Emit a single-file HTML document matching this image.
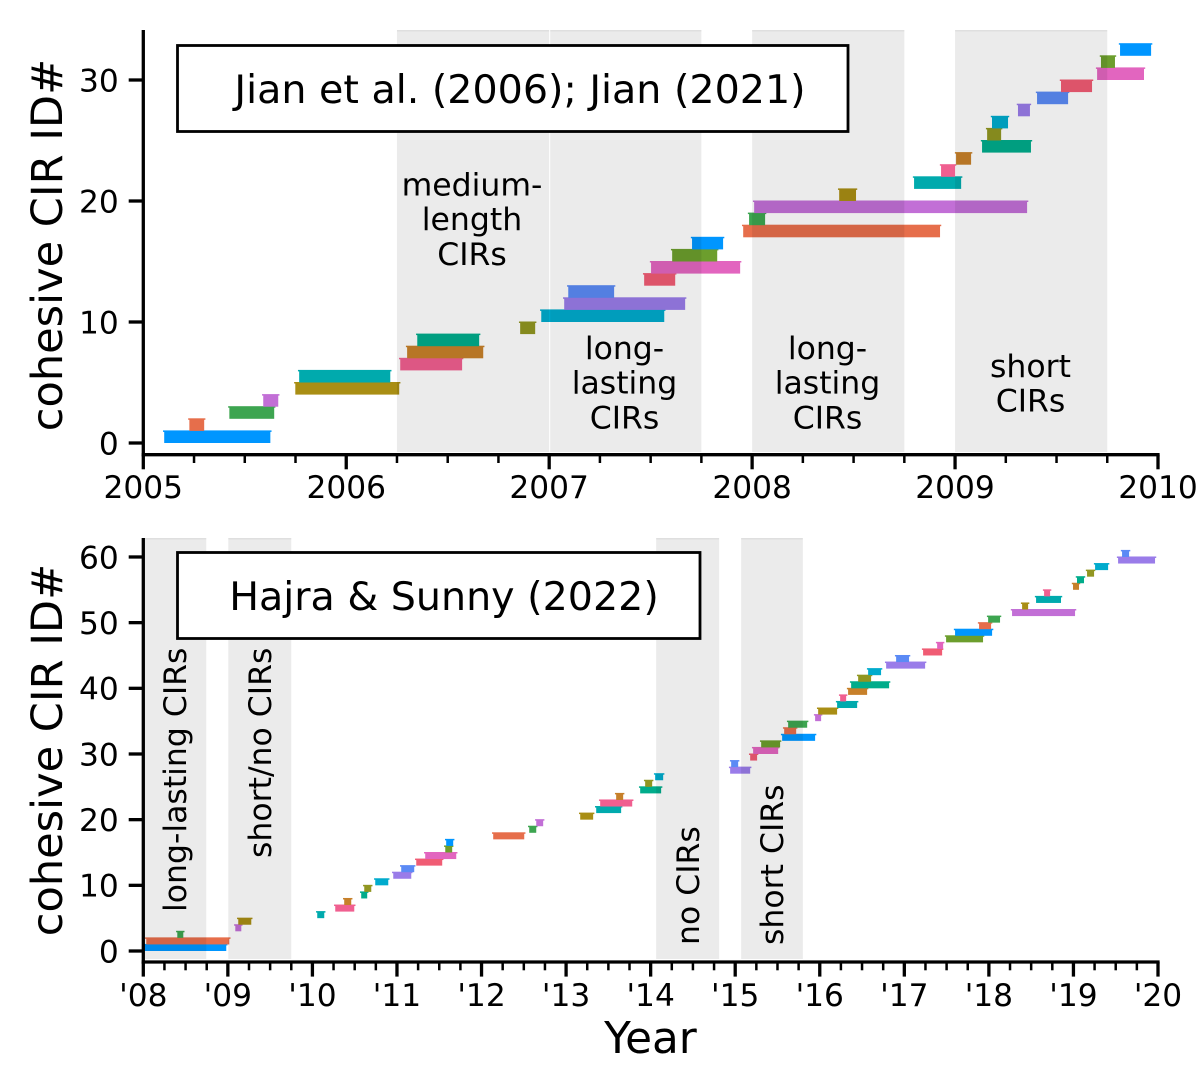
<!DOCTYPE html>
<html lang="en">
<head>
<meta charset="utf-8">
<title>Cohesive CIR timelines</title>
<style>
html,body{margin:0;padding:0;background:#fff;}
svg{display:block;font-family:"DejaVu Sans","Liberation Sans",sans-serif;fill:#000;}
</style>
</head>
<body>
<svg id="chart" xmlns="http://www.w3.org/2000/svg" width="1200" height="1067" viewBox="0 0 1200 1067"></svg>
<script>
// ---------- data: top panel (Jian) ----------
const topStart = [2005.103,2005.227,2005.424,2005.591,2005.749,2005.768,2006.266,2006.300,2006.350,2006.857,2006.961,2007.074,2007.094,2007.468,2007.502,2007.606,2007.704,2007.956,2007.985,2008.010,2008.429,2008.798,2008.931,2009.005,2009.133,2009.158,2009.182,2009.310,2009.404,2009.522,2009.700,2009.719,2009.813];
const topEnd = [2005.626,2005.300,2005.645,2005.665,2006.261,2006.217,2006.571,2006.675,2006.655,2006.931,2007.567,2007.670,2007.320,2007.621,2007.941,2007.828,2007.857,2008.926,2008.064,2009.355,2008.512,2009.030,2009.000,2009.079,2009.374,2009.227,2009.261,2009.369,2009.557,2009.675,2009.931,2009.788,2009.966];
const topSpanStart = [2006.25,2007.005,2008,2009];
const topSpanEnd = [2007,2007.75,2008.75,2009.75];
const topXTicks = [2005,2006,2007,2008,2009,2010];
const topYTicks = [0,10,20,30];

// ---------- data: bottom panel (Hajra & Sunny) ----------
const botStart = [2008.000,2008.035,2008.402,2009.088,2009.123,2010.057,2010.270,2010.376,2010.577,2010.613,2010.743,2010.956,2011.050,2011.228,2011.334,2011.571,2011.582,2012.138,2012.564,2012.647,2013.167,2013.356,2013.403,2013.592,2013.876,2013.935,2014.053,2014.940,2014.952,2015.177,2015.212,2015.307,2015.555,2015.579,2015.626,2015.945,2015.981,2016.205,2016.241,2016.335,2016.371,2016.454,2016.572,2016.785,2016.903,2017.222,2017.388,2017.494,2017.600,2017.884,2017.991,2018.274,2018.393,2018.558,2018.653,2018.995,2019.042,2019.161,2019.256,2019.528,2019.575];
const botEnd = [2008.981,2009.017,2008.473,2009.159,2009.277,2010.140,2010.495,2010.459,2010.648,2010.696,2010.897,2011.169,2011.204,2011.535,2011.701,2011.653,2011.665,2012.505,2012.647,2012.729,2013.320,2013.651,2013.782,2013.675,2014.124,2014.018,2014.148,2015.177,2015.035,2015.259,2015.508,2015.531,2015.945,2015.721,2015.851,2016.016,2016.205,2016.442,2016.312,2016.560,2016.820,2016.607,2016.725,2017.246,2017.056,2017.447,2017.459,2017.931,2018.038,2018.026,2018.132,2019.019,2018.464,2018.853,2018.724,2019.066,2019.125,2019.244,2019.410,2019.965,2019.658];
const botSpanStart = [2008,2009.005,2014.065,2015.07];
const botSpanEnd = [2008.745,2009.75,2014.81,2015.80];
const botXTicks = [2008,2009,2010,2011,2012,2013,2014,2015,2016,2017,2018,2019,2020];
const botXLabels = ["'08","'09","'10","'11","'12","'13","'14","'15","'16","'17","'18","'19","'20"];
const botYTicks = [0,10,20,30,40,50,60];

// ---------- colour cycle ----------
const palette = ['#0096ff','#e66e4b','#3da550','#c26fd6','#a98e14','#00aaad','#f05f90','#c7802a','#00ac8b','#919621','#00abcd','#9a7ce9','#5b8af5','#f05c74','#e265bf','#6c9e2d'];

const NS = 'http://www.w3.org/2000/svg';
const svg = document.getElementById('chart');

function add(parent, tag, attrs, txt) {
  const el = document.createElementNS(NS, tag);
  for (const k in attrs) el.setAttribute(k, attrs[k]);
  if (txt !== undefined) el.textContent = txt;
  parent.appendChild(el);
  return el;
}

function makeAxis(cfg) {
  const x = v => cfg.x0 + (v - cfg.xMin) * (cfg.x1 - cfg.x0) / (cfg.xMax - cfg.xMin);
  const y = v => cfg.y0 + v * cfg.yScale;
  return { x, y };
}

function drawPanel(cfg) {
  const ax = makeAxis(cfg);
  const g = add(svg, 'g', {});
  
  

  // bars: faint white halos go underneath every bar so neighbours stay touching
  const halos = add(g, 'g', {});
  
  
  const bars = add(g, 'g', {});
  
  
  cfg.starts.forEach((s, i) => {
    const a = ax.x(s), b = ax.x(cfg.ends[i]);
    const top = ax.y(i + 1), bot = ax.y(i);
    const col = palette[i % palette.length];
    add(halos, 'rect', {x: a - 1.2, y: top - 1, width: b - a + 2.4, height: bot - top + 2, fill: '#fff', 'fill-opacity': 0.6});
    const bar = add(bars, 'g', {});
    
    
    add(bar, 'rect', {x: a, y: top, width: b - a, height: bot - top, fill: col});
    add(bar, 'rect', {x: a - 1.2, y: top - 0.5, width: b - a + 2.4, height: 1.5, fill: col});
  });

  // grey spans, drawn over the bars
  cfg.spanStart.forEach((s, i) => {
    const a = ax.x(s), b = ax.x(cfg.spanEnd[i]);
    const span = add(g, 'g', {});
    
    
    add(span, 'rect', {x: a, y: cfg.top, width: b - a, height: cfg.spanBottom - cfg.top, fill: '#000', 'fill-opacity': 0.08});
    add(span, 'rect', {x: a, y: cfg.top, width: b - a, height: 1.5, fill: '#000', 'fill-opacity': 0.05});
  });

  // spines
  const left = add(g, 'line', {x1: cfg.x0, x2: cfg.x0, y1: cfg.top, y2: cfg.axisY + 1.6, stroke: '#000', 'stroke-width': 3.3});
  
  
  const bottom = add(g, 'line', {x1: cfg.x0 - 1.6, x2: cfg.x1 + 1.6, y1: cfg.axisY, y2: cfg.axisY, stroke: '#000', 'stroke-width': 3.3});
  
  

  // x ticks
  cfg.xTicks.forEach((t, i) => {
    const px = ax.x(t);
    const tick = add(g, 'line', {x1: px, x2: px, y1: cfg.axisY, y2: cfg.axisY + 14.6, stroke: '#000', 'stroke-width': 3.3});
    
    
    const label = add(g, 'text', {x: px, y: cfg.xLabelY, 'text-anchor': 'middle', 'font-size': 31.25}, cfg.xLabels[i]);
    
    
    if (i < cfg.xTicks.length - 1) {
      [0.25, 0.5, 0.75].forEach(f => {
        const mx = ax.x(t + f);
        const minor = add(g, 'line', {x1: mx, x2: mx, y1: cfg.axisY, y2: cfg.axisY + 8.3, stroke: '#000', 'stroke-width': 2.5});
        
        
      });
    }
  });

  // y ticks
  cfg.yTicks.forEach(t => {
    const py = ax.y(t);
    const tick = add(g, 'line', {x1: cfg.x0 - 14.6, x2: cfg.x0, y1: py, y2: py, stroke: '#000', 'stroke-width': 3.3});
    
    
    const label = add(g, 'text', {x: cfg.x0 - 24.5, y: py + 11.3, 'text-anchor': 'end', 'font-size': 31.25}, String(t));
    
    
  });

  // y axis title
  const yt = add(g, 'text', {x: 0, y: 0, 'text-anchor': 'middle', 'font-size': 43.1, transform: 'translate(62,' + cfg.yTitleY + ') rotate(-90)'}, 'cohesive CIR ID#');
  
  

  // source box
  const box = add(g, 'g', {});
  
  
  add(box, 'rect', {x: cfg.box[0], y: cfg.box[1], width: cfg.box[2], height: cfg.box[3], fill: '#fff', stroke: '#000', 'stroke-width': 2.8});
  add(box, 'text', {x: cfg.boxText[0], y: cfg.boxText[1], 'text-anchor': 'middle', 'font-size': 39.58}, cfg.source);

  // annotations
  cfg.notes.forEach(n => {
    const t = add(g, 'text', {'font-size': 31.5, 'text-anchor': 'middle', x: n.x, y: n.y});
    
    
    n.lines.forEach((l, k) => add(t, 'tspan', {x: n.x, y: n.y + k * 34.7}, l));
  });
  cfg.rotNotes.forEach(n => {
    const t = add(g, 'text', {'font-size': 31.5, 'text-anchor': 'start', transform: 'translate(' + n.x + ',' + n.y + ') rotate(-90)'}, n.text);
    
    
  });
}

drawPanel({
  name: 'top', x0: 143.3, x1: 1158, xMin: 2005, xMax: 2010, y0: 443, yScale: -12.1,
  top: 30, axisY: 454.7, spanBottom: 452, xLabelY: 498, yTitleY: 245,
  starts: topStart, ends: topEnd, spanStart: topSpanStart, spanEnd: topSpanEnd,
  xTicks: topXTicks, xLabels: topXTicks.map(String), yTicks: topYTicks,
  box: [177.5, 45.5, 670.5, 86], boxText: [520, 103], source: 'Jian et al. (2006); Jian (2021)',
  notes: [
    {x: 472, y: 195.5, lines: ['medium-', 'length', 'CIRs']},
    {x: 624.5, y: 359, lines: ['long-', 'lasting', 'CIRs']},
    {x: 827.5, y: 359, lines: ['long-', 'lasting', 'CIRs']},
    {x: 1030.5, y: 377, lines: ['short', 'CIRs']}
  ],
  rotNotes: []
});

drawPanel({
  name: 'bottom', x0: 143.3, x1: 1158, xMin: 2008, xMax: 2020, y0: 951, yScale: -6.567,
  top: 538, axisY: 962, spanBottom: 959, xLabelY: 1006, yTitleY: 750,
  starts: botStart, ends: botEnd, spanStart: botSpanStart, spanEnd: botSpanEnd,
  xTicks: botXTicks, xLabels: botXLabels, yTicks: botYTicks,
  box: [177.5, 552.5, 522.5, 86], boxText: [444, 610], source: 'Hajra & Sunny (2022)',
  notes: [],
  rotNotes: [
    {x: 186, y: 912, text: 'long-lasting CIRs'},
    {x: 271, y: 858, text: 'short/no CIRs'},
    {x: 699, y: 945, text: 'no CIRs'},
    {x: 783, y: 945, text: 'short CIRs'}
  ]
});

const xTitle = add(svg, 'text', {x: 650.5, y: 1053, 'text-anchor': 'middle', 'font-size': 43.75}, 'Year');


</script>
</body>
</html>
